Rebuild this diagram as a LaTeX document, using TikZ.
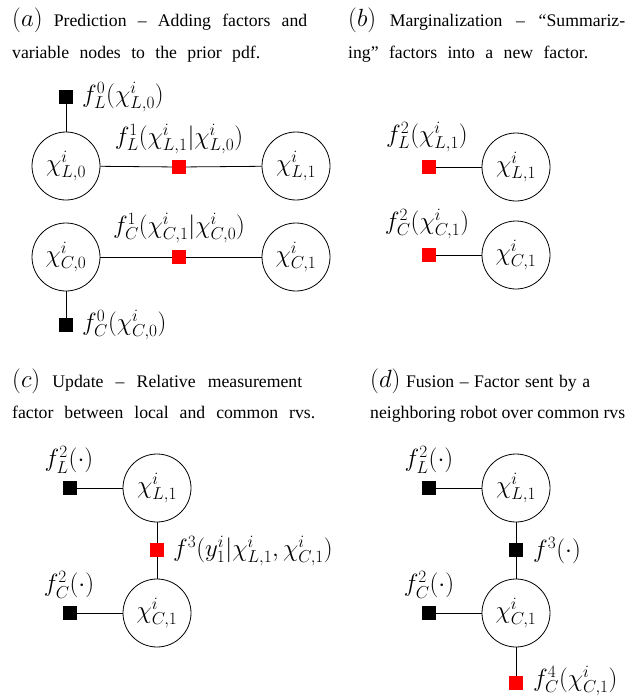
\documentclass[tikz,border=0pt]{standalone}
\usepackage{amsmath,amssymb}
\usepackage{fontspec}
\setmainfont{Liberation Serif}
\usepackage{tikz}

\begin{document}
\begin{tikzpicture}[x=1pt, y=-1pt,
  var/.style={draw, circle, line width=0.8pt, minimum size=68pt, inner sep=0pt,
              font=\fontsize{25}{28}\selectfont},
  fac/.style={rectangle, fill=black, minimum size=14pt, inner sep=0pt},
  rfac/.style={fac, fill=red},
  lab/.style={inner sep=0pt, font=\fontsize{25}{28}\selectfont},
  captxt/.style={inner sep=0pt, anchor=base west, font=\fontsize{17.7}{20}\selectfont},
  edg/.style={line width=0.8pt}]

\useasboundingbox (0,0) rectangle (639,696);

\node[captxt] (capa1) at (12, 26)
  {\makebox[295pt][s]{{\fontsize{25}{27}\selectfont$(a)$} Prediction -- Adding factors and}};
\node[captxt] (capa2) at (12, 58)
  {\makebox[248pt][s]{variable nodes to the prior pdf.}};
\node[captxt] (capb1) at (348, 26)
  {\makebox[277pt][s]{{\fontsize{25}{27}\selectfont$(b)$} Marginalization -- ``Summariz-}};
\node[captxt] (capb2) at (348, 58)
  {\makebox[240pt][s]{ing'' factors into a new factor.}};
\node[captxt] (capc1) at (12, 387)
  {\makebox[290pt][s]{{\fontsize{25}{27}\selectfont$(c)$} Update -- Relative measurement}};
\node[captxt] (capc2) at (12, 418)
  {\makebox[303pt][s]{factor between local and common rvs.}};
\node[captxt] (capd1) at (370, 387)
  {\makebox[220pt][s]{{\fontsize{25}{27}\selectfont$(d)$} Fusion -- Factor sent by a}};
\node[captxt] (capd2) at (370, 418)
  {\makebox[255pt][s]{neighboring robot over common rvs}};

% (a)
\node[fac] (fa0L) at (66, 97) {};
\node[lab, anchor=west] (la0L) at (82, 97) {$f_L^0(\chi^i_{L,0})$};
\node[var] (xa0L) at (66, 166) {$\chi^i_{L,0}$};
\node[rfac] (fa1L) at (179, 167) {};
\node[lab] (la1L) at (179, 139) {$f_L^1(\chi^i_{L,1}|\chi^i_{L,0})$};
\node[var] (xa1L) at (296, 166) {$\chi^i_{L,1}$};
\node[var] (xa0C) at (66, 257) {$\chi^i_{C,0}$};
\node[rfac] (fa1C) at (179, 257) {};
\node[lab] (la1C) at (179, 228) {$f_C^1(\chi^i_{C,1}|\chi^i_{C,0})$};
\node[var] (xa1C) at (296, 257) {$\chi^i_{C,1}$};
\node[fac] (fa0C) at (66, 325) {};
\node[lab, anchor=west] (la0C) at (82, 325) {$f_C^0(\chi^i_{C,0})$};

\draw[edg] (fa0L) -- (xa0L);
\draw[edg] (xa0L) -- (fa1L) -- (xa1L);
\draw[edg] (xa0C) -- (fa1C) -- (xa1C);
\draw[edg] (xa0C) -- (fa0C);

% (b)
\node[rfac] (fb2L) at (429, 167) {};
\node[lab] (lb2L) at (427, 137) {$f_L^2(\chi^i_{L,1})$};
\node[var] (xb1L) at (516, 167) {$\chi^i_{L,1}$};
\node[rfac] (fb2C) at (429, 255) {};
\node[lab] (lb2C) at (427, 224) {$f_C^2(\chi^i_{C,1})$};
\node[var] (xb1C) at (516, 255) {$\chi^i_{C,1}$};

\draw[edg] (fb2L) -- (xb1L);
\draw[edg] (fb2C) -- (xb1C);

% (c)
\node[fac] (fc2L) at (70, 488) {};
\node[lab] (lc2L) at (69, 460) {$f_L^2(\cdot)$};
\node[var] (xc1L) at (157, 488) {$\chi^i_{L,1}$};
\node[rfac] (fc3) at (157, 550) {};
\node[lab, anchor=west] (lc3) at (173, 551) {$f^3(y^i_1|\chi^i_{L,1},\chi^i_{C,1})$};
\node[var] (xc1C) at (157, 613) {$\chi^i_{C,1}$};
\node[fac] (fc2C) at (70, 613) {};
\node[lab] (lc2C) at (69, 585) {$f_C^2(\cdot)$};

\draw[edg] (fc2L) -- (xc1L);
\draw[edg] (xc1L) -- (fc3) -- (xc1C);
\draw[edg] (fc2C) -- (xc1C);

% (d)
\node[fac] (fd2L) at (429, 488) {};
\node[lab] (ld2L) at (429, 460) {$f_L^2(\cdot)$};
\node[var] (xd1L) at (516, 488) {$\chi^i_{L,1}$};
\node[fac] (fd3) at (516, 550) {};
\node[lab, anchor=west] (ld3) at (533, 551) {$f^3(\cdot)$};
\node[var] (xd1C) at (516, 613) {$\chi^i_{C,1}$};
\node[fac] (fd2C) at (429, 613) {};
\node[lab] (ld2C) at (429, 585) {$f_C^2(\cdot)$};
\node[rfac] (fd4) at (516, 683) {};
\node[lab, anchor=west] (ld4) at (533, 681) {$f_C^4(\chi^i_{C,1})$};

\draw[edg] (fd2L) -- (xd1L);
\draw[edg] (xd1L) -- (fd3) -- (xd1C);
\draw[edg] (fd2C) -- (xd1C);
\draw[edg] (xd1C) -- (fd4);
\end{tikzpicture}
\end{document}
